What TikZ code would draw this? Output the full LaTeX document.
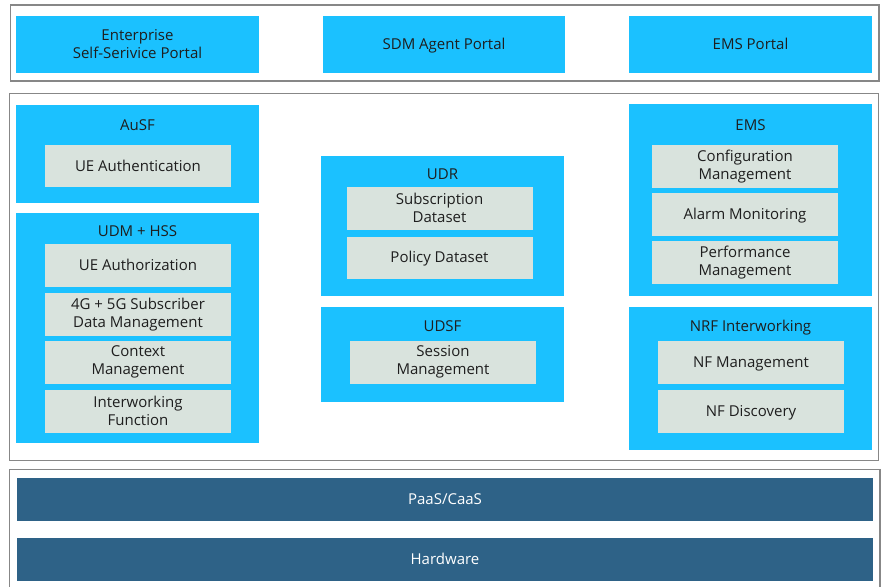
\documentclass[tikz,border=0pt]{standalone}
\usepackage{fontspec}
\setmainfont{Open Sans}
\definecolor{cyanbox}{HTML}{1BC1FF}
\definecolor{greybox}{HTML}{D9E3DD}
\definecolor{darkbar}{HTML}{2E6287}
\definecolor{framegrey}{HTML}{878787}
\definecolor{textdark}{HTML}{1E1E1E}
\newcommand\rbox[7]{%
  \node[#6, minimum width={(#4)-(#2)}, minimum height={(#5)-(#3)}] (#1) at ({((#2)+(#4))/2},{((#3)+(#5))/2}) {#7};}
\begin{document}
\begin{tikzpicture}[x=1pt,y=-1pt,
  every node/.style={inner sep=0pt, outer sep=0pt, align=center, text=textdark, font=\fontsize{15}{18}\selectfont},
  cyan/.style={fill=cyanbox},
  grey/.style={fill=greybox},
  bar/.style={fill=darkbar, text=white},
  one/.style={text height=10.7pt, text depth=0pt},
  frame/.style={draw=framegrey, line width=1.6pt},
  ttl/.style={anchor=center, one}]
\useasboundingbox (0,0) rectangle (883,586);
% frames
\draw[frame] (10.5,5) rectangle (879,81);
\draw[frame] (9.5,93.5) rectangle (878.5,460.5);
\draw[frame] (9.5,590) -- (9.5,469.5) -- (880,469.5) -- (880,590);
% portals
\rbox{esp}{16}{16}{259}{73}{cyan}{Enterprise\\Self-Serivice Portal}
\rbox{sdm}{323}{16}{565}{73}{cyan,one}{SDM Agent Portal}
\rbox{emsp}{629}{16}{872}{73}{cyan,one}{EMS Portal}
% AuSF
\rbox{ausf}{16}{105}{259}{203}{cyan}{}
\node[ttl] (ausft) at (137.5,125) {AuSF};
\rbox{ueauth}{45}{145}{231}{187}{grey,one}{UE Authentication}
% UDM + HSS
\rbox{udm}{16}{213}{259}{443}{cyan}{}
\node[ttl] (udmt) at (137.5,231) {UDM + HSS};
\rbox{ueaut}{45}{244}{231}{286.5}{grey,one}{UE Authorization}
\rbox{sdmgmt}{45}{293}{231}{335.5}{grey}{4G + 5G Subscriber\\Data Management}
\rbox{ctx}{45}{341}{231}{383.5}{grey}{Context\\Management}
\rbox{iwf}{45}{390}{231}{432.5}{grey}{Interworking\\Function}
% UDR
\rbox{udr}{321}{156}{564}{295.5}{cyan}{}
\node[ttl] (udrt) at (442.5,174) {UDR};
\rbox{subs}{346.5}{187}{532.5}{229.5}{grey}{Subscription\\Dataset}
\rbox{pol}{346.5}{236.5}{532.5}{278.5}{grey,one}{Policy Dataset}
% UDSF
\rbox{udsf}{321}{307}{564}{401.5}{cyan}{}
\node[ttl] (udsft) at (442.5,326) {UDSF};
\rbox{sess}{350}{341}{536}{383.5}{grey}{Session\\Management}
% EMS
\rbox{ems}{629}{104}{872}{295.5}{cyan}{}
\node[ttl] (emst) at (750.5,125) {EMS};
\rbox{cfg}{652}{145}{838}{187.5}{grey}{Configuration\\Management}
\rbox{alarm}{652}{193}{838}{235.5}{grey,one}{Alarm Monitoring}
\rbox{perf}{652}{241}{838}{283.5}{grey}{Performance\\Management}
% NRF
\rbox{nrf}{629}{307}{872}{449.5}{cyan}{}
\node[ttl] (nrft) at (750.5,326) {NRF Interworking};
\rbox{nfm}{658}{341}{844}{383.5}{grey,one}{NF Management}
\rbox{nfd}{658}{390}{844}{432.5}{grey,one}{NF Discovery}
% bars
\rbox{paas}{17}{478}{873}{520.5}{bar,one}{PaaS/CaaS}
\rbox{hw}{17}{538}{873}{580.5}{bar,one}{Hardware}
\end{tikzpicture}
\end{document}
